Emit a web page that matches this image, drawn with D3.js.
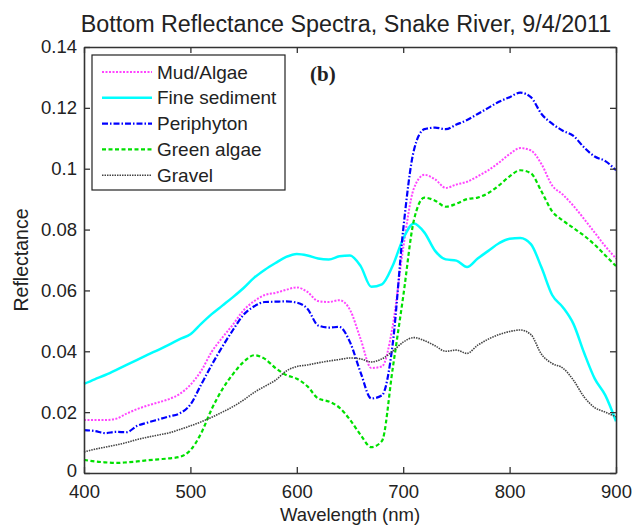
<!DOCTYPE html>
<html>
<head>
<meta charset="utf-8">
<script src="https://cdn.jsdelivr.net/npm/d3@7"></script>
<style>
  body { margin: 0; background: #fff; }
  text { font-family: "Liberation Sans", Arial, sans-serif; fill: #222; }
</style>
</head>
<body>
<div id="chart"></div>
<script>
// wavelengths shared by every spectrum (nm)
const wavelengths = [400,410,420,430,440,450,460,470,480,490,500,510,520,530,540,550,560,570,580,590,
  600,610,620,630,640,650,660,670,680,690,700,710,720,730,740,750,760,770,780,790,
  800,810,820,830,840,850,860,870,880,890,900];

const mudAlgae = [0.0174,0.0174,0.0174,0.0178,0.0195,0.0210,0.0222,0.0232,0.0243,0.0260,
  0.0290,0.0335,0.0398,0.0445,0.0488,0.0535,0.0565,0.0585,0.0592,0.0602,
  0.0610,0.0595,0.0565,0.0562,0.0568,0.0536,0.0440,0.0345,0.0350,0.0480,
  0.0740,0.0935,0.0980,0.0965,0.0937,0.0948,0.0957,0.0975,0.0995,0.1020,
  0.1048,0.1068,0.1060,0.1015,0.0945,0.0915,0.0878,0.0835,0.0790,0.0745,0.0705];

const fineSediment = [0.0293,0.0308,0.0322,0.0338,0.0355,0.0372,0.0389,0.0405,0.0422,0.0440,
  0.0456,0.0490,0.0522,0.0550,0.0578,0.0608,0.0642,0.0668,0.0690,0.0710,
  0.0720,0.0715,0.0705,0.0702,0.0712,0.0715,0.0680,0.0612,0.0620,0.0680,
  0.0770,0.0820,0.0790,0.0730,0.0702,0.0698,0.0677,0.0705,0.0730,0.0755,
  0.0770,0.0772,0.0752,0.0675,0.0585,0.0545,0.0490,0.0395,0.0310,0.0255,0.0170];

const periphyton = [0.0141,0.0138,0.0131,0.0135,0.0134,0.0155,0.0166,0.0176,0.0186,0.0196,
  0.0225,0.0290,0.0355,0.0415,0.0470,0.0520,0.0548,0.0562,0.0563,0.0564,
  0.0560,0.0540,0.0485,0.0478,0.0480,0.0430,0.0330,0.0245,0.0255,0.0420,
  0.0800,0.1060,0.1130,0.1135,0.1130,0.1145,0.1160,0.1180,0.1200,0.1220,
  0.1235,0.1250,0.1235,0.1180,0.1148,0.1125,0.1108,0.1070,0.1040,0.1025,0.0995];

const greenAlgae = [0.0043,0.0038,0.0035,0.0033,0.0035,0.0038,0.0042,0.0045,0.0048,0.0053,
  0.0075,0.0130,0.0210,0.0275,0.0325,0.0365,0.0387,0.0375,0.0345,0.0322,
  0.0310,0.0285,0.0245,0.0235,0.0215,0.0175,0.0125,0.0085,0.0105,0.0340,
  0.0580,0.0830,0.0905,0.0895,0.0875,0.0885,0.0900,0.0905,0.0920,0.0945,
  0.0975,0.0995,0.0985,0.0925,0.0860,0.0830,0.0805,0.0780,0.0750,0.0715,0.0680];

const gravel = [0.0069,0.0078,0.0085,0.0092,0.0100,0.0110,0.0118,0.0125,0.0132,0.0143,
  0.0155,0.0168,0.0183,0.0200,0.0218,0.0240,0.0265,0.0285,0.0305,0.0335,
  0.0350,0.0355,0.0362,0.0368,0.0373,0.0378,0.0375,0.0365,0.0375,0.0400,
  0.0430,0.0445,0.0435,0.0418,0.0400,0.0404,0.0393,0.0420,0.0440,0.0455,
  0.0465,0.0470,0.0455,0.0390,0.0360,0.0345,0.0305,0.0250,0.0215,0.0200,0.0185];

const seriesNames = ['Mud/Algae', 'Fine sediment', 'Periphyton', 'Green algae', 'Gravel'];
const xTicks = [400, 500, 600, 700, 800, 900];
const yTicks = [0, 0.02, 0.04, 0.06, 0.08, 0.1, 0.12, 0.14];

// styles per series, same order as seriesNames
const styles = [
  {color: '#ff44ff', width: 2, dash: '2,1.5'},
  {color: '#00ffff', width: 2.5, dash: null},
  {color: '#0000ff', width: 2.2, dash: '6,2,1.5,2'},
  {color: '#00e000', width: 2.2, dash: '4,2.5'},
  {color: '#444444', width: 1.6, dash: '1.5,1'}
];

function drawChart() {
  var width = 640, height = 526;
  var margin = {top: 47, right: 24, bottom: 53, left: 84};

  var x = d3.scaleLinear().domain([400, 900]).range([margin.left, width - margin.right]);
  var y = d3.scaleLinear().domain([0, 0.14]).range([height - margin.bottom, margin.top]);

  var svg = d3.select('#chart').append('svg')
    .attr('width', width)
    .attr('height', height);

  var allSeries = [mudAlgae, fineSediment, periphyton, greenAlgae, gravel];

  var line = d3.line()
    .x(function(d, i) { return x(wavelengths[i]); })
    .y(function(d) { return y(d); })
    .curve(d3.curveMonotoneX);

  // the spectra
  svg.selectAll('.spectrum')
    .data(allSeries)
    .enter().append('path')
    .attr('class', 'spectrum')
    .attr('d', line)
    .attr('fill', 'none')
    .attr('stroke', function(d, i) { return styles[i].color; })
    .attr('stroke-width', function(d, i) { return styles[i].width; })
    .attr('stroke-dasharray', function(d, i) { return styles[i].dash; });

  // axes, ticks pointing in, box all round like matlab
  var axisColor = '#333';
  var bottom = svg.append('g')
    .attr('transform', 'translate(0,' + (height - margin.bottom) + ')')
    .call(d3.axisBottom(x).tickValues(xTicks).tickSizeInner(-6).tickSizeOuter(0).tickPadding(12));
  var left = svg.append('g')
    .attr('transform', 'translate(' + margin.left + ',0)')
    .call(d3.axisLeft(y).tickValues(yTicks).tickFormat(d3.format('~g')).tickSizeInner(-6).tickSizeOuter(0).tickPadding(7));
  var top = svg.append('g')
    .attr('transform', 'translate(0,' + margin.top + ')')
    .call(d3.axisTop(x).tickValues(xTicks).tickSizeInner(-6).tickSizeOuter(0).tickFormat(''));
  var right = svg.append('g')
    .attr('transform', 'translate(' + (width - margin.right) + ',0)')
    .call(d3.axisRight(y).tickValues(yTicks).tickSizeInner(-6).tickSizeOuter(0).tickFormat(''));

  [bottom, left, top, right].forEach(function(g) {
    g.select('.domain').attr('stroke', axisColor).attr('stroke-width', 1.6);
    g.selectAll('.tick line').attr('stroke', axisColor).attr('stroke-width', 1.3);
    g.selectAll('.tick text').style('font-size', '18.5px').attr('fill', '#222')
      .style('font-family', '"Liberation Sans", Arial, sans-serif');
  });
  // the zero label sits a touch higher so it clears the "400"
  left.selectAll('.tick text').filter(function(d) { return d === 0; }).attr('dy', '0.2em');

  // title and axis labels
  svg.append('text')
    .attr('x', 346).attr('y', 32)
    .attr('text-anchor', 'middle')
    .style('font-size', '23.3px')
    .text('Bottom Reflectance Spectra, Snake River, 9/4/2011');
  svg.append('text')
    .attr('x', 350).attr('y', 521)
    .attr('text-anchor', 'middle')
    .style('font-size', '18.5px')
    .text('Wavelength (nm)');
  svg.append('text')
    .attr('transform', 'translate(28,260) rotate(-90)')
    .attr('text-anchor', 'middle')
    .style('font-size', '19.5px')
    .text('Reflectance');

  // panel letter
  svg.append('text')
    .attr('x', 310).attr('y', 81)
    .style('font-family', '"Liberation Serif", "Times New Roman", serif')
    .style('font-weight', 'bold')
    .style('font-size', '21px')
    .text('(b)');

  // legend box
  var legend = svg.append('g').attr('transform', 'translate(92,55)');
  legend.append('rect')
    .attr('width', 193).attr('height', 135)
    .attr('fill', '#fff').attr('stroke', '#222').attr('stroke-width', 1.2);
  seriesNames.forEach(function(name, i) {
    var ly = 17 + i * 25.8;
    legend.append('line')
      .attr('x1', 10).attr('x2', 60).attr('y1', ly).attr('y2', ly)
      .attr('stroke', styles[i].color)
      .attr('stroke-width', styles[i].width)
      .attr('stroke-dasharray', styles[i].dash);
    legend.append('text')
      .attr('x', 65).attr('y', ly)
      .attr('dy', '0.35em')
      .style('font-size', '19px')
      .text(name);
  });
}

drawChart();
</script>
</body>
</html>
